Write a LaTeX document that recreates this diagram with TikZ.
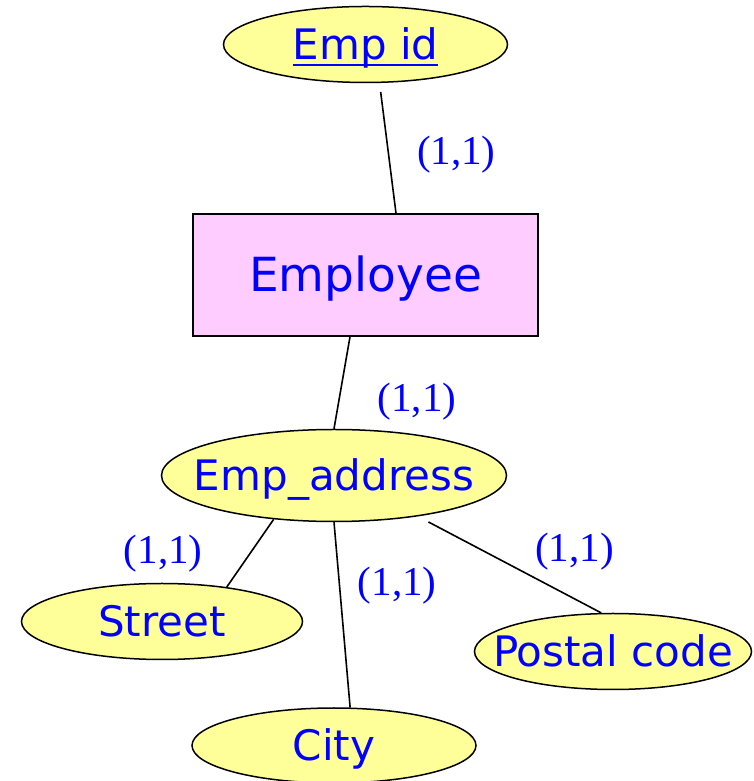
\documentclass[tikz,border=0pt]{standalone}
\usepackage{fontspec}
\setmainfont{DejaVu Sans}
\newfontfamily\cardfont{Liberation Serif}
\usetikzlibrary{shapes.geometric,positioning,calc}

\definecolor{erblue}{HTML}{0000FF}
\definecolor{attrfill}{HTML}{FFFF99}
\definecolor{entityfill}{HTML}{FFCCFF}

% underline for the key attribute, just under the baseline
\newcommand\keyline[1]{\setbox0\hbox{#1}\rlap{\rule[-6pt]{\wd0}{2pt}}\box0}

\tikzset{
  entity/.style={rectangle, draw, fill=entityfill, line width=1.5pt,
    minimum width=345pt, minimum height=122pt, text=erblue,
    font=\fontsize{47}{56}\selectfont, text height=34pt, text depth=0pt},
  attr/.style 2 args={ellipse, draw, fill=attrfill, line width=1.5pt,
    minimum width=#1, minimum height=#2, inner sep=0pt, text=erblue,
    font=\fontsize{42}{50}\selectfont, text height=31pt, text depth=0pt,
    execute at begin node={\hbox to 0pt\bgroup\hss},
    execute at end node={\hss\egroup}},
  card/.style={text=erblue, font=\cardfont\fontsize{41}{49}\selectfont, inner sep=0pt},
  link/.style={line width=1.6pt},
}

\begin{document}
\begin{tikzpicture}[x=1pt, y=1pt]
  \useasboundingbox (0,0) rectangle (754,781);

  % entity in the middle, key attribute above it
  \node [entity] (employee) at (365.5,506) {Employee};
  \node [attr={284pt}{76pt}, above=130pt of employee] (emp_id) {\keyline{Emp id}};

  % composite attribute and its parts
  \node [attr={345pt}{92pt}, below=92pt of employee, xshift=-31.5pt] (emp_addr) {Emp\_address};
  \node [attr={284pt}{75pt}, below=185pt of emp_addr] (city) {City};
  \node [attr={281pt}{76pt}] (street) at ($(emp_addr)+(-172,-146)$) {Street};
  \node [attr={277pt}{76pt}] (postal_code) at ($(emp_addr)+(279,-176)$) {Postal code};

  % links with cardinalities
  \draw [link, shorten <=9pt] (emp_id.-70)
    -- node[card, pos=0.55, right=27.7pt] {(1,1)} ([xshift=30.5pt]employee.north);
  \draw [link] ([xshift=-15.5pt]employee.south)
    -- node[card, pos=0.7, right=38pt] {(1,1)} (emp_addr.north);
  \draw [link] (emp_addr.216)
    -- node[card, midway, left=47pt] {(1,1)} (street.28);
  \draw [link] (emp_addr.south)
    -- node[card, pos=0.34, right=17.7pt] {(1,1)} (city.67);
  \draw [link, shorten <=12pt] (emp_addr.-26)
    -- node[card, midway, xshift=65pt, yshift=13pt] {(1,1)} (postal_code.107);
\end{tikzpicture}
\end{document}
